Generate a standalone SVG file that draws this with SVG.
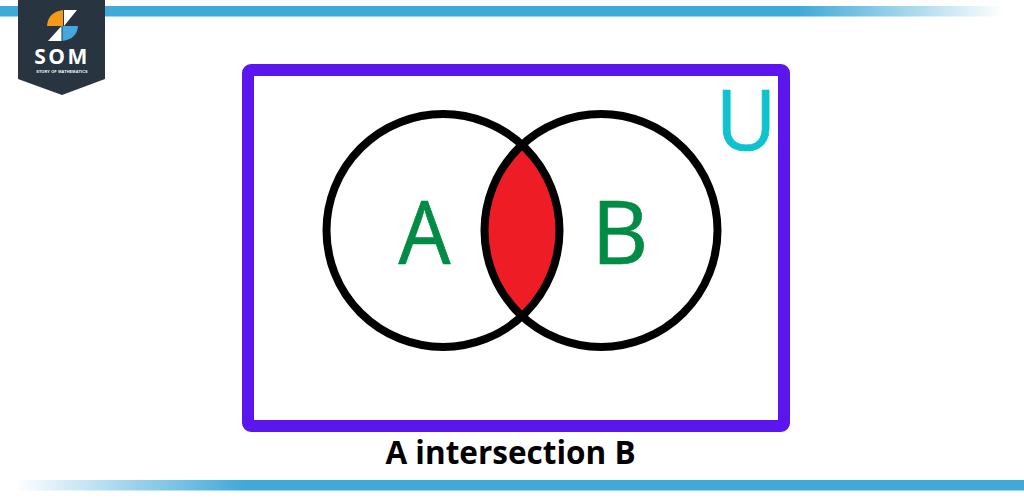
<svg xmlns="http://www.w3.org/2000/svg" width="1024" height="502" viewBox="0 0 1024 502">
<style>
.ring{fill:none;stroke:#000;stroke-width:8}
.set{font-family:"Open Sans","Liberation Sans",sans-serif;font-size:88px;fill:#008c45;stroke:#008c45;stroke-width:.7;text-anchor:middle}
</style>
<defs>
<linearGradient id="fadeR" x1="0" x2="1" y1="0" y2="0"><stop offset="0.78" stop-color="#3fa9d8"/><stop offset="0.98" stop-color="#3fa9d8" stop-opacity="0"/></linearGradient>
<linearGradient id="fadeL" x1="0" x2="1" y1="0" y2="0"><stop offset="0.015" stop-color="#3fa9d8" stop-opacity="0"/><stop offset="0.24" stop-color="#3fa9d8"/></linearGradient>
</defs>
<rect width="1024" height="502" fill="#fff"/>
<rect id="bar-top" x="0" y="6" width="1024" height="10.500" fill="url(#fadeR)"/>
<rect id="bar-bottom" x="0" y="480" width="1024" height="10.500" fill="url(#fadeL)"/>
<g id="logo">
<path d="M18 0H105V79L62 95L18 79Z" fill="#28343f"/>
<path d="M63 10V26H47Q48 12 63 10Z" fill="#f49a17"/>
<path d="M64 10H77L64 26Z" fill="#fff"/>
<path d="M61.500 26V41H48Z" fill="#fff"/>
<path d="M62.500 26H78Q77 39 62.500 41Z" fill="#44a8dc"/>
<text x="62" y="64" font-family="'Open Sans','Liberation Sans',sans-serif" font-size="21" font-weight="700" fill="#fff" text-anchor="middle" letter-spacing="2.500">SOM</text>
<text x="62" y="72.500" font-family="'Liberation Sans',sans-serif" font-size="3.800" font-weight="700" fill="#fff" text-anchor="middle" letter-spacing="0.2">STORY OF MATHEMATICS</text>
</g>
<rect id="universe" x="248" y="70" width="536" height="356" rx="3" fill="none" stroke="#5b16ee" stroke-width="12"/>
<g id="intersection"><path d="M522 145A116.500 116.500 0 0 1 522 316A116.500 116.500 0 0 1 522 145Z" fill="#ee1c25"/></g>
<g id="set-a"><circle class="ring" cx="443" cy="230.500" r="116.500"/><text class="set" x="424.500" y="264" textLength="52" lengthAdjust="spacingAndGlyphs">A</text></g>
<g id="set-b"><circle class="ring" cx="601" cy="230.500" r="116.500"/><text class="set" x="620" y="264">B</text></g>
<g id="label-u"><text x="746" y="150" font-family="'Open Sans','Liberation Sans',sans-serif" font-size="84" fill="#0fc2cf" stroke="#0fc2cf" stroke-width=".7" text-anchor="middle">U</text></g>
<g id="caption"><text x="510.500" y="464" font-family="'Open Sans','Liberation Sans',sans-serif" font-size="31.500" font-weight="700" fill="#000" text-anchor="middle">A intersection B</text></g>
</svg>
